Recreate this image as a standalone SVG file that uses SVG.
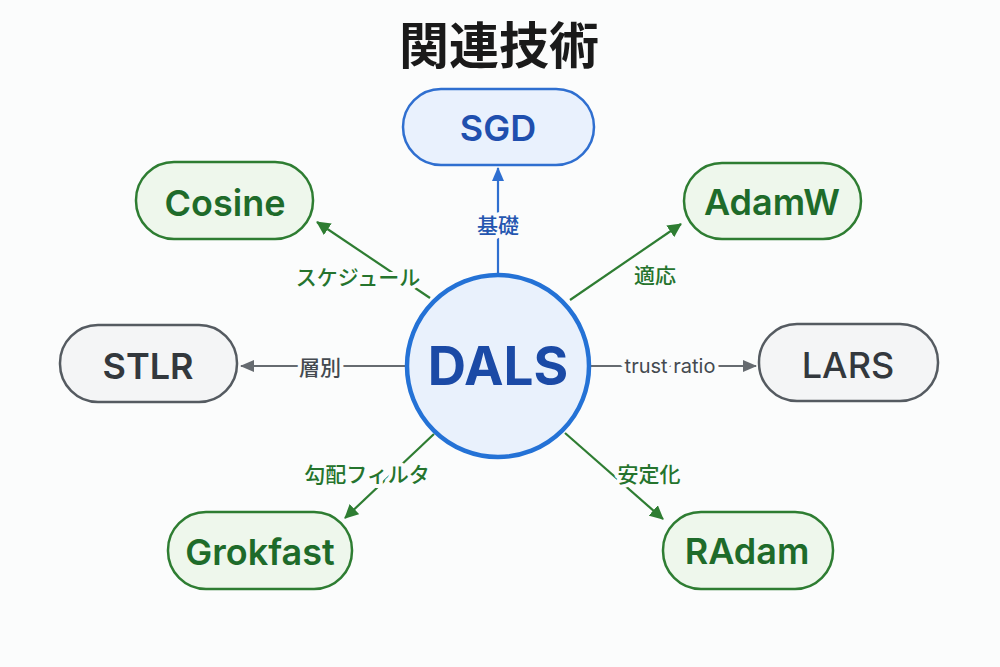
<svg xmlns="http://www.w3.org/2000/svg" width="1000" height="667" viewBox="0 0 1000 667">
<defs>
<style>
text{font-family:"Inter","Noto Sans CJK JP",sans-serif;text-anchor:middle;dominant-baseline:central}
.title{font-size:50px;font-weight:700;fill:#1a1a1a;font-family:"Noto Sans CJK JP",sans-serif}
.box{stroke-width:2.5}
.blue{fill:#e9f1fd;stroke:#2f6fd0}
.green{fill:#eef7ec;stroke:#2e7d32}
.gray{fill:#f4f5f6;stroke:#555b61}
.nt{font-size:36px;font-weight:600}
.tb{fill:#1f4fae}.tg{fill:#1e6b2a}.tk{fill:#33383d}
.lbl{font-size:21px;font-weight:500;font-family:"Noto Sans CJK JP",sans-serif;stroke:#fbfcfc;stroke-width:8px;paint-order:stroke;stroke-linejoin:round}
.lb{fill:#2456b0}.lg{fill:#25742d}.lk{fill:#444a50}
.eb{stroke:#2f6fd0;stroke-width:2.2;fill:none}
.eg{stroke:#2e7d32;stroke-width:2.2;fill:none}
.ek{stroke:#666b70;stroke-width:2.2;fill:none}
</style>
<marker id="ag" markerWidth="14" markerHeight="14" refX="13" refY="7" orient="auto" markerUnits="userSpaceOnUse" viewBox="0 0 14 14"><path d="M0,0 L14,7 L0,14 z" fill="#2e7d32"/></marker>
<marker id="ak" markerWidth="14" markerHeight="14" refX="13" refY="7" orient="auto" markerUnits="userSpaceOnUse" viewBox="0 0 14 14"><path d="M0,1 L14,7 L0,13 z" fill="#666b70"/></marker>
<marker id="ab2" markerWidth="14" markerHeight="14" refX="13" refY="7" orient="auto" markerUnits="userSpaceOnUse" viewBox="0 0 14 14"><path d="M0,1 L14,7 L0,13 z" fill="#2f6fd0"/></marker>
</defs>
<rect width="1000" height="667" fill="#fbfcfc"/>
<text class="title" x="499" y="42">関連技術</text>
<g id="connectors">
<line class="eb" x1="498" y1="274" x2="498" y2="168" marker-end="url(#ab2)"/>
<line class="eg" x1="430" y1="298" x2="317" y2="222" marker-end="url(#ag)"/>
<line class="eg" x1="570" y1="300" x2="681" y2="224" marker-end="url(#ag)"/>
<line class="ek" x1="405" y1="366" x2="241" y2="366" marker-end="url(#ak)"/>
<line class="ek" x1="591" y1="366" x2="756" y2="366" marker-end="url(#ak)"/>
<line class="eg" x1="434" y1="434" x2="345" y2="518" marker-end="url(#ag)"/>
<line class="eg" x1="565" y1="433" x2="663" y2="519" marker-end="url(#ag)"/>
<text class="lbl lb" x="498" y="224">基礎</text>
<text class="lbl lg" x="358" y="276">スケジュール</text>
<text class="lbl lg" x="655" y="274">適応</text>
<text class="lbl lk" x="320" y="366">層別</text>
<text class="lbl lk" x="670" y="366" style="font-family:Inter,sans-serif;font-size:20px;font-weight:400">trust ratio</text>
<text class="lbl lg" x="367" y="473">勾配フィルタ</text>
<text class="lbl lg" x="649" y="473">安定化</text>
</g>
<g id="SGD"><rect class="box blue" x="403" y="89" width="191" height="76" rx="38"/><text class="nt tb" x="498" y="128">SGD</text></g>
<g id="Cosine"><rect class="box green" x="136" y="162" width="177" height="77" rx="38"/><text class="nt tg" x="225" y="203">Cosine</text></g>
<g id="AdamW"><rect class="box green" x="684" y="163" width="177" height="76" rx="38"/><text class="nt tg" x="772" y="202">AdamW</text></g>
<g id="STLR"><rect class="box gray" x="60" y="325" width="177" height="77" rx="38"/><text class="nt tk" x="148" y="366">STLR</text></g>
<g id="LARS"><rect class="box gray" x="759" y="324" width="179" height="77" rx="38"/><text class="nt tk" x="848" y="365" style="font-weight:500">LARS</text></g>
<g id="Grokfast"><rect class="box green" x="168" y="512" width="184" height="77" rx="38"/><text class="nt tg" x="260" y="552">Grokfast</text></g>
<g id="RAdam"><rect class="box green" x="663" y="512" width="170" height="77" rx="38"/><text class="nt tg" x="747" y="551">RAdam</text></g>
<g id="DALS"><circle cx="498" cy="366" r="91" fill="#e9f1fc" stroke="#2472d6" stroke-width="4.5"/><text x="498" y="366" style="font-size:53px;font-weight:700;fill:#1b4aa6">DALS</text></g>
</svg>
